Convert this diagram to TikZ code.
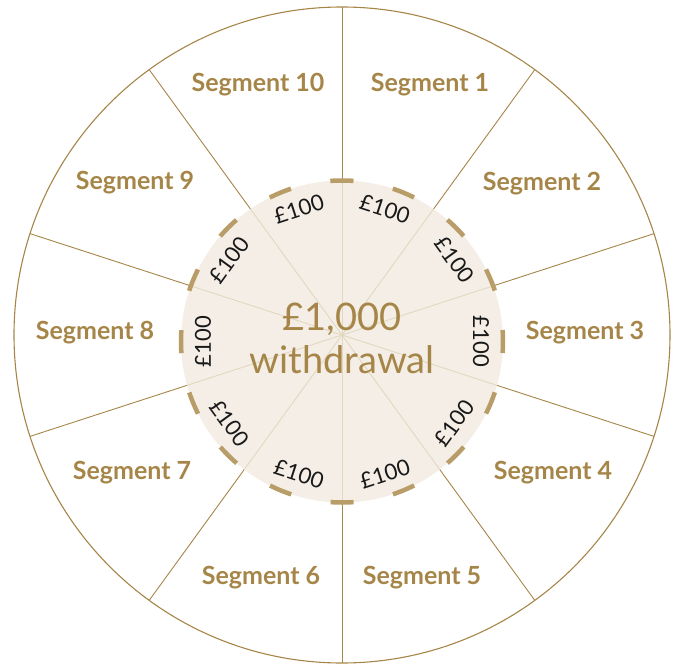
\documentclass[tikz,border=0pt]{standalone}
\usepackage{fontspec}
\setmainfont{Lato}
\usetikzlibrary{positioning}
\definecolor{gold}{HTML}{A68648}
\definecolor{ringgold}{HTML}{B99D68}
\definecolor{cream}{HTML}{F4EEE6}
\definecolor{pale}{HTML}{E2D8C0}

\begin{document}
\begin{tikzpicture}[x=1pt,y=1pt,
  seglabel/.style={font=\fontsize{25}{28}\selectfont\bfseries,text=gold,inner sep=0pt},
  share/.style={font=\fontsize{22}{24}\selectfont,text=black!90,inner sep=0pt},
  total/.style={font=\fontsize{38}{42}\selectfont,text=gold,inner sep=0pt,anchor=base},
  spoke/.style={gold,line width=0.9pt},
  palespoke/.style={pale,line width=0.9pt},
  ring/.style={ringgold,line width=4.5pt,dash pattern=on 23pt off 40.22pt,dash phase=11.5pt}]
  \useasboundingbox (-342,-329) rectangle (335,335);
  \coordinate (o) at (0,0);
  \coordinate (c) at (0,-6.5);
  % wheel
  \draw[gold,line width=1.1pt] (o) circle[radius=328];
  \foreach \a in {90,54,18,-18,-54,-90,-126,-162,162,126}
    \draw[spoke] (o) -- (\a:328);
  \fill[cream] (c) circle[radius=161];
  \begin{scope}
    \clip (c) circle[radius=161];
    \foreach \a in {90,54,18,-18,-54,-90,-126,-162,162,126}
      \draw[palespoke] (o) -- (\a:180);
  \end{scope}
  \draw[ring] ([shift={(90:161)}]c) arc[start angle=90,end angle=-270,radius=161];
  % shares
  \foreach \a/\r [count=\i] in {72/-18,36/-54,0/-90,-36/54,-72/18,-108/-18,-144/-54,180/90,144/54,108/18}
    \node[share,rotate=\r] (p\i) at ([shift={(\a:139)}]c) {£100};
  \node[total] (amount) at (0,5) {£1,000};
  \node[total] (word) at (0,-38) {withdrawal};
  % segments
  \node[seglabel] (s1) at (88,250) {Segment 1};
  \node[seglabel] (s2) at (200,151) {Segment 2};
  \node[seglabel] (s3) at (243,2) {Segment 3};
  \node[seglabel] (s4) at (211,-138) {Segment 4};
  \node[seglabel] (s5) at (80,-243) {Segment 5};
  \node[seglabel] (s6) at (-81,-243) {Segment 6};
  \node[seglabel] (s7) at (-210,-138) {Segment 7};
  \node[seglabel] (s8) at (-247,2) {Segment 8};
  \node[seglabel] (s9) at (-207,152) {Segment 9};
  \node[seglabel] (s10) at (-84,250) {Segment 10};
\end{tikzpicture}
\end{document}
